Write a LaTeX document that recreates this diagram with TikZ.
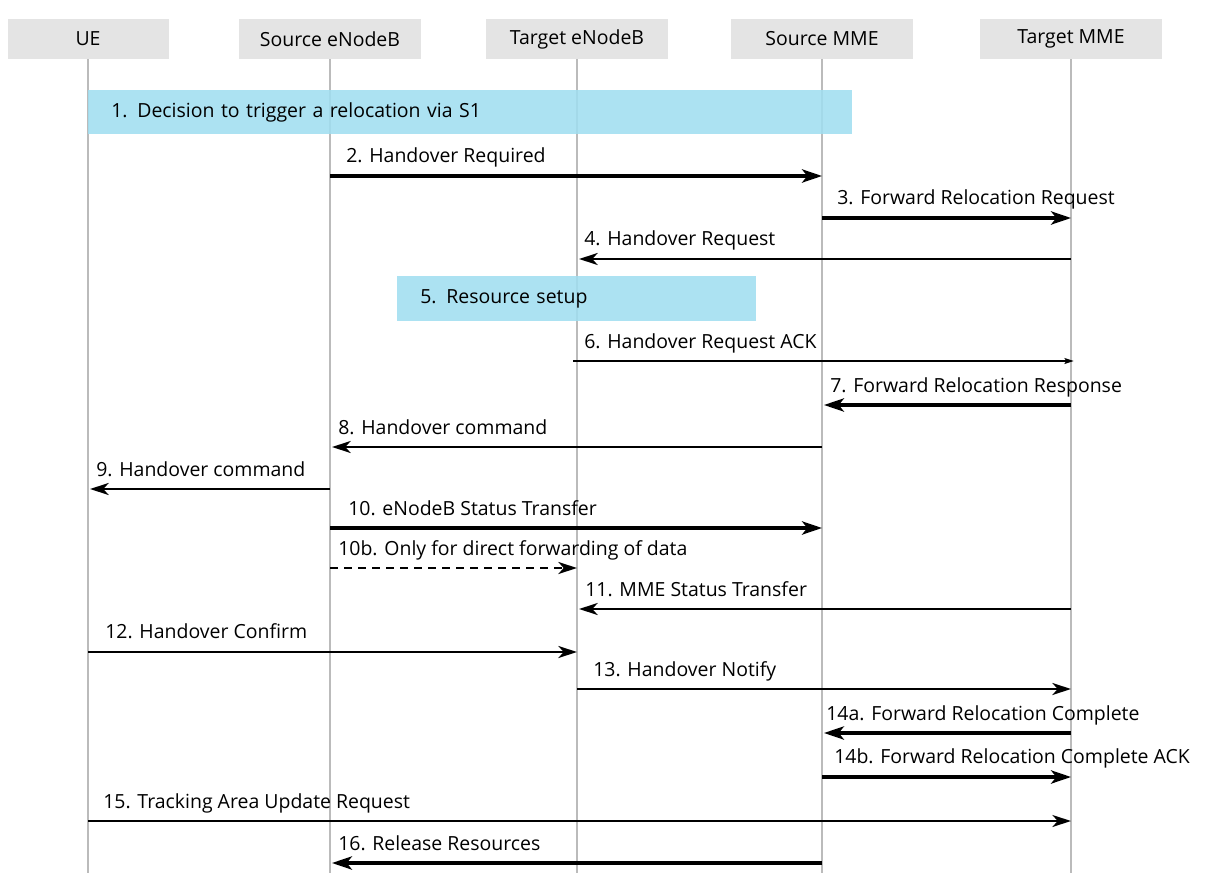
\documentclass[tikz,border=0pt]{standalone}
\usepackage{fontspec}
\setmainfont{Open Sans}
\usetikzlibrary{arrows.meta}
\definecolor{hdrgray}{HTML}{E4E4E4}
\definecolor{lifegray}{HTML}{BBBBBB}
\definecolor{stepcyan}{HTML}{A0DEF0}
\tikzset{
  hdr/.style={fill=hdrgray, minimum width=136.5pt, minimum height=30pt, inner sep=0pt},
  life/.style={lifegray, line width=2.1pt},
  stepbox/.style={fill=stepcyan, fill opacity=0.88, text opacity=1, anchor=north west, align=left, inner xsep=17.25pt, inner ysep=0pt},
  msg/.style={line width=1.6pt, -{Stealth[length=14pt, width=9pt, inset=4pt]}},
  msgb/.style={line width=2.3pt, -{Stealth[length=15pt, width=10pt, inset=4pt]}},
  msgt/.style={line width=0.9pt, -{Stealth[length=7pt, width=4.5pt, inset=1.5pt]}},
  lbl/.style={anchor=base west, inner sep=0pt},
}
\begin{document}
\begin{tikzpicture}[x=0.75pt, y=-0.75pt, font=\fontsize{14.6}{17}\selectfont]
\useasboundingbox (0,0) rectangle (1205,873);
\node[hdr, minimum width=120.75pt] (ue) at (88,39) {UE};
\node[hdr] (senb) at (330,39) {Source eNodeB};
\node[hdr] (tenb) at (577,39) {Target eNodeB};
\node[hdr] (smme) at (822,39) {Source MME};
\node[hdr] (tmme) at (1071,39) {Target MME};
\foreach \n in {ue,senb,tenb,smme,tmme}
  \draw[life] (\n.south) -- (\n |- 0,873);
\node[stepbox, text width=538.5pt, minimum height=33pt] (s1) at (88,90) {1. Decision to trigger a relocation via S1};
\node[stepbox, text width=234.75pt, minimum height=33.75pt] (s5) at (397,276) {5. Resource setup};
\node[lbl] (m2) at (346,163) {2. Handover Required};
\draw[msgb] (senb |- 0,176) -- (smme |- 0,176);
\node[lbl] (m3) at (837,205) {3. Forward Relocation Request};
\draw[msgb] (smme |- 0,218) -- (tmme |- 0,218);
\node[lbl] (m4) at (584,246) {4. Handover Request};
\draw[msg, shorten >=1.5pt] (tmme |- 0,259) -- (tenb |- 0,259);
\node[lbl] (m6) at (584,348) {6. Handover Request ACK};
\draw[msgt, shorten <=-3pt, shorten >=-2pt] (tenb |- 0,361) -- (tmme |- 0,361);
\node[lbl] (m7) at (830,392) {7. Forward Relocation Response};
\draw[msgb, shorten >=1.5pt] (tmme |- 0,405) -- (smme |- 0,405);
\node[lbl] (m8) at (338,434) {8. Handover command};
\draw[msg, shorten >=1.5pt] (smme |- 0,447) -- (senb |- 0,447);
\node[lbl] (m9) at (96,476) {9. Handover command};
\draw[msg, shorten >=1.5pt] (senb |- 0,489) -- (ue |- 0,489);
\node[lbl] (m10) at (348,515) {10. eNodeB Status Transfer};
\draw[msgb] (senb |- 0,528) -- (smme |- 0,528);
\node[lbl] (m10b) at (338,555) {10b. Only for direct forwarding of data};
\draw[msg, dash pattern=on 6pt off 4.5pt] (senb |- 0,568) -- (tenb |- 0,568);
\node[lbl] (m11) at (585,596) {11. MME Status Transfer};
\draw[msg, shorten >=1.5pt] (tmme |- 0,609) -- (tenb |- 0,609);
\node[lbl] (m12) at (105,638) {12. Handover Confirm};
\draw[msg] (ue |- 0,652) -- (tenb |- 0,652);
\node[lbl] (m13) at (593,676) {13. Handover Notify};
\draw[msg] (tenb |- 0,689) -- (tmme |- 0,689);
\node[lbl] (m14a) at (826,720) {14a. Forward Relocation Complete};
\draw[msgb, shorten >=1.5pt] (tmme |- 0,733) -- (smme |- 0,733);
\node[lbl] (m14b) at (834,763) {14b. Forward Relocation Complete ACK};
\draw[msgb] (smme |- 0,777) -- (tmme |- 0,777);
\node[lbl] (m15) at (103,808) {15. Tracking Area Update Request};
\draw[msg, line width=1.3pt] (ue |- 0,821) -- (tmme |- 0,821);
\node[lbl] (m16) at (338,850) {16. Release Resources};
\draw[msgb, shorten >=1.5pt] (smme |- 0,863) -- (senb |- 0,863);
\end{tikzpicture}
\end{document}
